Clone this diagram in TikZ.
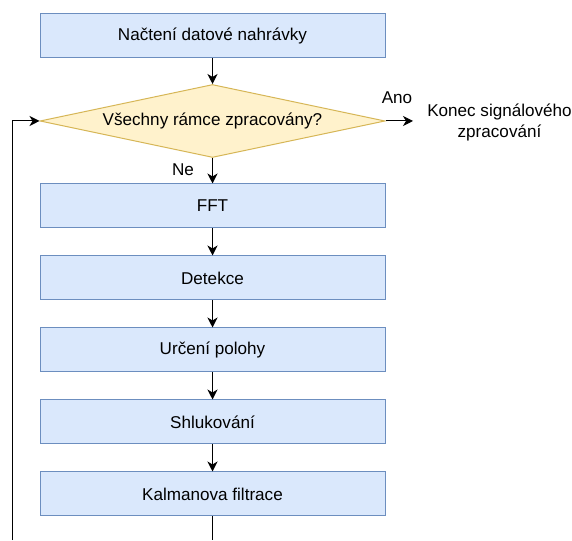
\documentclass[tikz,border=0pt]{standalone}
\usepackage{fontspec}
\setmainfont{Liberation Sans}
\usetikzlibrary{shapes.geometric,arrows.meta}
\definecolor{bfill}{HTML}{DAE8FC}
\definecolor{bdraw}{HTML}{6C8EBF}
\definecolor{dfill}{HTML}{FFF2CC}
\definecolor{ddraw}{HTML}{D6B656}
\tikzset{
  x=1pt,y=1pt,
  every node/.style={font=\fontsize{17.1}{21}\selectfont},
  stepbox/.style={draw=bdraw,fill=bfill,line width=1pt,minimum width=345pt,minimum height=44pt,inner sep=0pt},
  decision/.style={draw=ddraw,fill=dfill,line width=1pt,diamond,aspect=4.73,minimum width=345pt,minimum height=73pt,inner sep=0pt},
  conn/.style={line width=1pt,-{Stealth[length=10pt,width=10pt,inset=3pt]}},
  plain/.style={line width=1pt}
}
\begin{document}
\begin{tikzpicture}
\useasboundingbox (0,0) rectangle (572,540);
\node[stepbox] (load) at (212.5,504) {Načtení datové nahrávky};
\node[decision] (dec) at (212.5,419) {Všechny rámce zpracovány?};
\node[stepbox] (fft) at (212.5,334) {FFT};
\node[stepbox] (det) at (212.5,262) {Detekce};
\node[stepbox] (pos) at (212.5,190) {Určení polohy};
\node[stepbox] (clu) at (212.5,118) {Shlukování};
\node[stepbox] (kal) at (212.5,46) {Kalmanova filtrace};
\node[align=center] (end) at (499.5,418) {Konec signálového\\zpracování};
\node (ano) at (397,442) {Ano};
\node (ne) at (183,370) {Ne};
\coordinate (endarr) at (413,419);
\coordinate (b1) at (212.5,0);
\coordinate (b2) at (12,0);
\draw[conn] (load) -- (dec);
\draw[conn] (dec) -- (fft);
\draw[conn] (fft) -- (det);
\draw[conn] (det) -- (pos);
\draw[conn] (pos) -- (clu);
\draw[conn] (clu) -- (kal);
\draw[conn] (dec.east) -- (endarr);
\draw[plain] (kal) -- (b1);
\draw[conn] (b2) |- (dec.west);
\end{tikzpicture}
\end{document}
